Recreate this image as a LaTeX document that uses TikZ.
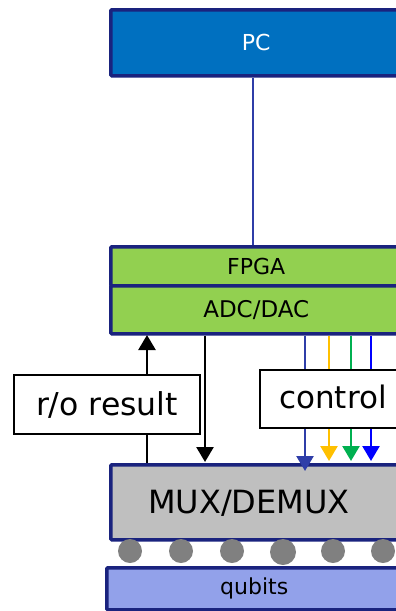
\documentclass[tikz,border=0pt]{standalone}
\usepackage{fontspec}
\setmainfont{DejaVu Sans}
\usetikzlibrary{arrows.meta}
\definecolor{navy}{RGB}{26,35,126}
\definecolor{pcblue}{RGB}{0,112,192}
\definecolor{fpgagreen}{RGB}{146,208,80}
\definecolor{muxgray}{RGB}{191,191,191}
\definecolor{dotgray}{RGB}{128,128,128}
\definecolor{qubitblue}{RGB}{146,161,234}
\definecolor{linkblue}{RGB}{47,62,168}
\definecolor{ctlyellow}{RGB}{255,192,0}
\definecolor{ctlgreen}{RGB}{0,176,80}
\definecolor{ctlblue}{RGB}{0,0,255}
\tikzset{
  hwbox/.style={draw=navy, line width=3.5pt, rounded corners=1pt, inner sep=0pt, anchor=north west},
  labelbox/.style={draw=black, fill=white, line width=2pt, inner sep=0pt, anchor=north west},
  sig/.style={line width=2.5pt},
  tipa/.style={-{Triangle[width=17pt,length=15pt]}},
  qdot/.style={circle, fill=dotgray, inner sep=0pt},
}
\begin{document}
\begin{tikzpicture}[x=1pt,y=-1pt]
\useasboundingbox (0,0) rectangle (396,611);
\begin{scope}
\clip (0,0) rectangle (396,611);
% PC
\node[hwbox, fill=pcblue, minimum width=291pt, minimum height=66pt, text=white,
      font=\fontsize{22}{26}\selectfont] (pc) at (109,8) {PC};
% FPGA / ADC
\node[hwbox, fill=fpgagreen, minimum width=291pt, minimum height=39pt,
      font=\fontsize{22}{26}\selectfont] (fpga) at (109,245) {FPGA};
\node[hwbox, fill=fpgagreen, minimum width=291pt, minimum height=48pt,
      font=\fontsize{23}{26}\selectfont] (adc) at (109,284) {ADC/DAC};
% MUX
\node[hwbox, fill=muxgray, minimum width=291pt, minimum height=75pt] (mux) at (109,463) {};
\node[font=\fontsize{32}{38}\selectfont, anchor=center] (muxtext) at (249,503) {MUX/DEMUX};
% qubit dots
\node[qdot, minimum size=24pt] (q1) at (130,551) {};
\node[qdot, minimum size=24pt] (q2) at (181,551) {};
\node[qdot, minimum size=24pt] (q3) at (232,551) {};
\node[qdot, minimum size=26pt] (q4) at (283,552) {};
\node[qdot, minimum size=24pt] (q5) at (333,551) {};
\node[qdot, minimum size=24pt] (q6) at (383,551) {};
% qubits
\node[hwbox, fill=qubitblue, minimum width=295pt, minimum height=42pt,
      font=\fontsize{22}{26}\selectfont] (qb) at (105,566) {qubits};
% links
\draw[linkblue, sig] (pc.south -| 253,0) -- (fpga.north -| 253,0);
\draw[sig, tipa] (mux.north -| 147,0) -- (147,335);
\draw[sig, tipa] (adc.south -| 205,0) -- (205,462);
\draw[sig, linkblue, tipa] (adc.south -| 305,0) -- (305,471);
\draw[sig, ctlyellow, tipa] (adc.south -| 329,0) -- (329,461);
\draw[sig, ctlgreen, tipa] (adc.south -| 351,0) -- (351,461);
\draw[sig, ctlblue, tipa] (adc.south -| 371,0) -- (371,461);
% label boxes
\node[labelbox, minimum width=186pt, minimum height=59pt,
      font=\fontsize{31.5}{36}\selectfont] (ro) at (13,374) {r/o result};
\node[labelbox, minimum width=150pt, minimum height=58pt] (ctl) at (259,369) {};
\node[font=\fontsize{31}{36}\selectfont, anchor=center] (ctltext) at (333,397) {control};
\end{scope}
\end{tikzpicture}
\end{document}
